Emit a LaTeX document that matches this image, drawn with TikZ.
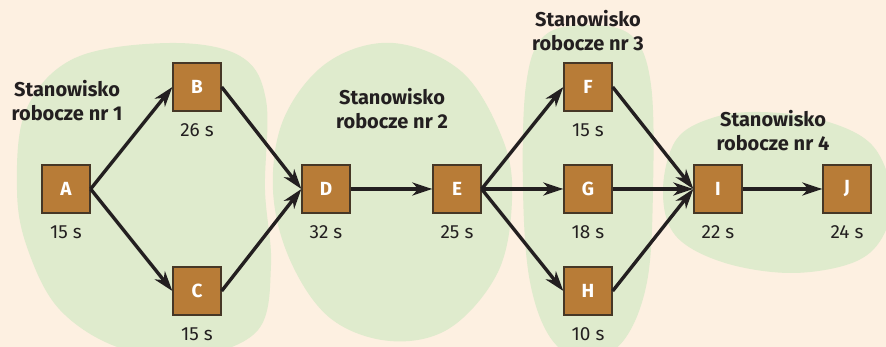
\documentclass[tikz,border=0pt]{standalone}
\usepackage{fontspec}
\setmainfont{Fira Sans}
\usetikzlibrary{arrows.meta}
\definecolor{bgc}{RGB}{253,240,225}
\definecolor{blobc}{RGB}{223,235,205}
\definecolor{boxc}{RGB}{184,124,55}
\definecolor{boxline}{RGB}{70,55,38}
\definecolor{ink}{RGB}{35,31,32}
\tikzset{
  taskbox/.style={draw=boxline, line width=1.3pt, fill=boxc, minimum size=48pt, inner sep=0pt,
    text=white, font=\fontsize{19}{22}\selectfont\bfseries},
  timelabel/.style={text=ink, font=\fontsize{19}{22}\selectfont, inner sep=0pt},
  stationlabel/.style={text=ink, align=center, font=\fontsize{20}{24}\selectfont\bfseries, inner sep=0pt},
  blob/.style={fill=blobc, draw=none},
  flow/.style={draw=ink, line width=3.4pt, -{Stealth[length=20pt,width=13pt,inset=6pt]}},
}
\begin{document}
\begin{tikzpicture}[x=1pt,y=-1pt]
\path[fill=bgc] (0,0) rectangle (886,347);
\useasboundingbox (0,0) rectangle (886,347);
% station areas
\fill[blob] plot[smooth cycle, tension=0.6] coordinates {(17,190) (26,110) (75,58) (170,43) (240,56) (266,100) (265,190) (271,265) (258,330) (195,356) (120,348) (60,310) (28,250)};
\fill[blob] plot[smooth cycle, tension=0.6] coordinates {(393,43) (462,72) (503,140) (512,200) (498,272) (450,328) (390,341) (330,318) (290,260) (273,190) (284,118) (328,62)};
\fill[blob] plot[smooth cycle, tension=0.6] coordinates {(588,25) (632,36) (651,85) (653,190) (647,282) (624,340) (588,360) (552,340) (530,282) (523,190) (526,85) (544,36)};
\fill[blob] plot[smooth cycle, tension=0.6] coordinates {(663,190) (676,140) (712,118) (760,112) (822,120) (872,145) (892,195) (882,238) (852,263) (790,273) (722,262) (675,235)};
% tasks
\node[taskbox] (A) at (66,189) {A};
\node[taskbox] (B) at (197,87) {B};
\node[taskbox] (C) at (197,291) {C};
\node[taskbox] (D) at (326,189) {D};
\node[taskbox] (E) at (457,189) {E};
\node[taskbox] (F) at (588,87) {F};
\node[taskbox] (G) at (588,189) {G};
\node[taskbox] (H) at (588,291) {H};
\node[taskbox] (I) at (718,189) {I};
\node[taskbox] (J) at (847,189) {J};
% times
\node[timelabel] (tA) at (66,232) {15 s};
\node[timelabel] (tB) at (197,130) {26 s};
\node[timelabel] (tC) at (197,334) {15 s};
\node[timelabel] (tD) at (326,232) {32 s};
\node[timelabel] (tE) at (457,232) {25 s};
\node[timelabel] (tF) at (588,130) {15 s};
\node[timelabel] (tG) at (588,232) {18 s};
\node[timelabel] (tH) at (588,334) {10 s};
\node[timelabel] (tI) at (718,232) {22 s};
\node[timelabel] (tJ) at (847,232) {24 s};
% station titles
\node[stationlabel] (s1) at (67,101) {Stanowisko\\robocze nr 1};
\node[stationlabel] (s2) at (392,109) {Stanowisko\\robocze nr 2};
\node[stationlabel] (s3) at (588,31) {Stanowisko\\robocze nr 3};
\node[stationlabel] (s4) at (773,131) {Stanowisko\\robocze nr 4};
% flows
\draw[flow] (A.east) -- (B.west);
\draw[flow] (A.east) -- (C.west);
\draw[flow] (B.east) -- (D.west);
\draw[flow] (C.east) -- (D.west);
\draw[flow] (D.east) -- (E.west);
\draw[flow] (E.east) -- (F.west);
\draw[flow] (E.east) -- (G.west);
\draw[flow] (E.east) -- (H.west);
\draw[flow] (F.east) -- (I.west);
\draw[flow] (G.east) -- (I.west);
\draw[flow] (H.east) -- (I.west);
\draw[flow] (I.east) -- (J.west);
\end{tikzpicture}
\end{document}
